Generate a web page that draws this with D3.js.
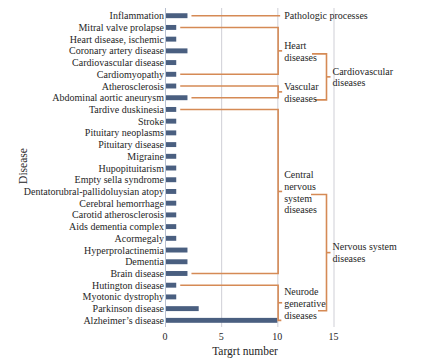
<!DOCTYPE html>
<html><head><meta charset="utf-8">
<script src="https://cdn.jsdelivr.net/npm/d3@7"></script>
<style>html,body{margin:0;padding:0;background:#fff;}svg{display:block;} text{font-family:"Liberation Serif","Times New Roman",Times,serif;}</style>
</head><body>
<script>
const categories = ["Inflammation","Mitral valve prolapse","Heart disease, ischemic","Coronary artery disease","Cardiovascular disease","Cardiomyopathy","Atherosclerosis","Abdominal aortic aneurysm","Tardive duskinesia","Stroke","Pituitary neoplasms","Pituitary disease","Migraine","Hupopituitarism","Empty sella syndrome","Dentatorubral-pallidoluysian atopy","Cerebral hemorrhage","Carotid atherosclerosis","Aids dementia complex","Acormegaly","Hyperprolactinemia","Dementia","Brain disease","Hutington disease","Myotonic dystrophy","Parkinson disease","Alzheimer’s disease"];
const values = [2,1,1,2,1,1,1,2,1,1,1,1,1,1,1,1,1,1,1,1,2,2,2,1,1,3,10];
const xTicks = [0,5,10,15];
const groupLabels = [["Pathologic processes"],["Heart","diseases"],["Vascular","diseases"],["Central","nervous","system","diseases"],["Neurode","generative","diseases"]];
const groupFirst = ["Inflammation","Mitral valve prolapse","Atherosclerosis","Tardive duskinesia","Hutington disease"];
const groupLast = ["Inflammation","Cardiomyopathy","Abdominal aortic aneurysm","Brain disease","Alzheimer’s disease"];
const superLabels = [["Cardiovascular","diseases"],["Nervous system","diseases"]];
const superChildren = [[1,2],[3,4]];

const W=429,H=363;
const svg=d3.select("body").append("svg").attr("width",W).attr("height",H);
const orange="#d58a55", barColor="#4a5f80", grid="#cfcfd6", fs=10, txt="#262626";

const x=d3.scaleLinear().domain([0,15]).range([165,333.5]);
const y=d3.scaleBand().domain(categories).range([9.85,326.2]).paddingInner(0.58).paddingOuter(0.29);
const yc=c=>y(c)+y.bandwidth()/2;

// gridlines
svg.append("g").selectAll("line").data(xTicks.slice(1)).join("line")
  .attr("x1",d=>x(d)+0.5).attr("x2",d=>x(d)+0.5).attr("y1",8).attr("y2",327)
  .attr("stroke",grid).attr("stroke-width",1);
// y axis line
svg.append("line").attr("x1",x(0)+0.5).attr("x2",x(0)+0.5).attr("y1",8).attr("y2",327).attr("stroke","#b8c0d0");

// bars
svg.append("g").selectAll("rect").data(categories).join("rect")
  .attr("x",x(0)+1).attr("y",d=>y(d)).attr("height",y.bandwidth())
  .attr("width",(d,i)=>x(values[i])-x(0)-1).attr("fill",barColor);

// category labels
svg.append("g").selectAll("text").data(categories).join("text")
  .attr("x",164).attr("y",d=>yc(d)).attr("dy","0.35em").attr("text-anchor","end")
  .attr("font-size",fs).attr("fill",txt).text(d=>d);

// x tick labels
svg.append("g").selectAll("text").data(xTicks).join("text")
  .attr("x",d=>x(d)).attr("y",336).attr("dy","0.35em").attr("text-anchor","middle")
  .attr("font-size",fs).attr("fill",txt).text(d=>d);

// axis titles
svg.append("text").attr("x",245).attr("y",355).attr("text-anchor","middle")
  .attr("font-size",11.5).attr("fill",txt).text("Targrt number");
svg.append("text").attr("transform","translate(23,166) rotate(-90)").attr("text-anchor","middle")
  .attr("dy","0.35em").attr("font-size",11.5).attr("fill",txt).text("Disease");

// level-1 brackets
const bx=x(10)+0.8, lh=11.7;
const ticksY=[];
const g1=svg.append("g").attr("stroke",orange).attr("stroke-width",1.6).attr("fill","none");
groupFirst.forEach((f,i)=>{
  const l=groupLast[i];
  const fi=categories.indexOf(f), li=categories.indexOf(l);
  const y1=yc(f), y2=yc(l);
  const ty=(y1+y2)/2; ticksY.push(ty);
  if(fi===li){
    g1.append("line").attr("x1",x(values[fi])+4).attr("x2",bx+2).attr("y1",y1).attr("y2",y1);
  } else {
    g1.append("path").attr("d",`M${x(values[fi])+4},${y1}H${bx}V${y2}H${x(values[li])+4}`);
    g1.append("line").attr("x1",bx).attr("x2",bx+4).attr("y1",ty).attr("y2",ty);
  }
  const lines=groupLabels[i];
  const t=svg.append("text").attr("font-size",fs).attr("fill",txt);
  lines.forEach((s,k)=>{
    t.append("tspan").attr("x",bx+6).attr("y",ty+(k-(lines.length-1)/2)*lh+(lines.length>1?0.8:0)).attr("dy","0.35em").text(s);
  });
});

// level-2 brackets
const sx=326.5;
superChildren.forEach((ch,i)=>{
  const ya=ticksY[ch[0]]+3, yb=ticksY[ch[1]]+8;
  const xs=[312,315,311,318];
  g1.append("path").attr("d",`M${xs[ch[0]-1]},${ya}H${sx}V${yb}H${xs[ch[1]-1]}`);
  const ty=(ya+yb)/2;
  g1.append("line").attr("x1",sx).attr("x2",sx+4).attr("y1",ty).attr("y2",ty);
  const lines=superLabels[i];
  const t=svg.append("text").attr("font-size",fs).attr("fill",txt);
  lines.forEach((s,k)=>{
    t.append("tspan").attr("x",sx+6).attr("y",ty+(k-(lines.length-1)/2)*lh).attr("dy","0.35em").text(s);
  });
});
</script>
</body></html>
